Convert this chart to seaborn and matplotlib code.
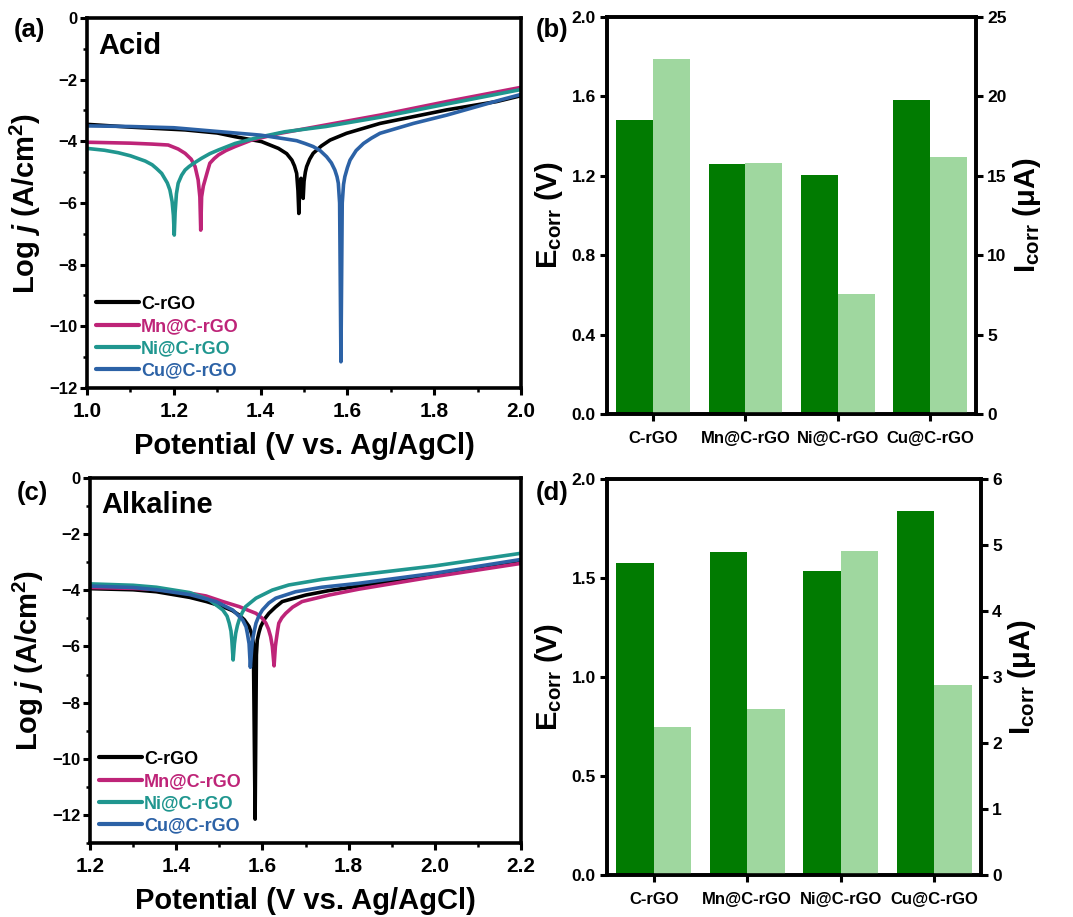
import numpy as np
import pandas as pd
import matplotlib
matplotlib.use('Agg')
import matplotlib.pyplot as plt
import seaborn as sns
from matplotlib.ticker import MultipleLocator

# ---- Tafel curves, acid (panel a) ----
acid_crgo_x = [1.00, 1.10, 1.226, 1.30, 1.341, 1.402, 1.441, 1.46, 1.472, 1.478, 1.483, 1.486, 1.488, 1.490,
               1.493, 1.496, 1.498, 1.500, 1.503, 1.506, 1.513, 1.521, 1.54, 1.56, 1.598, 1.675, 1.752, 1.829, 1.944, 2.00]
acid_crgo_y = [-3.45, -3.54, -3.63, -3.73, -3.85, -4.01, -4.23, -4.40, -4.61, -4.80, -5.04, -5.6, -6.34, -5.5,
               -5.2, -5.4, -5.85, -5.3, -5.0, -4.82, -4.58, -4.39, -4.15, -3.96, -3.74, -3.42, -3.20, -2.98, -2.71, -2.52]
acid_mn_x = [1.00, 1.10, 1.15, 1.187, 1.21, 1.226, 1.24, 1.249, 1.256, 1.260, 1.262, 1.264, 1.268, 1.272, 1.278,
             1.283, 1.293, 1.303, 1.32, 1.341, 1.379, 1.445, 1.55, 1.675, 1.829, 2.00]
acid_mn_y = [-4.03, -4.06, -4.09, -4.12, -4.25, -4.39, -4.58, -4.82, -5.25, -5.8, -6.88, -5.8, -5.45, -5.25, -4.95,
             -4.71, -4.56, -4.44, -4.30, -4.17, -3.96, -3.74, -3.47, -3.15, -2.71, -2.25]
acid_ni_x = [1.00, 1.04, 1.072, 1.10, 1.134, 1.15, 1.16, 1.172, 1.185, 1.191, 1.196, 1.199, 1.201, 1.203, 1.206,
             1.21, 1.218, 1.226, 1.235, 1.245, 1.264, 1.283, 1.303, 1.341, 1.395, 1.456, 1.55, 1.675, 1.829, 2.00]
acid_ni_y = [-4.23, -4.29, -4.37, -4.47, -4.64, -4.76, -4.88, -5.04, -5.35, -5.58, -5.95, -6.4, -7.04, -6.3, -5.7,
             -5.36, -5.1, -4.93, -4.82, -4.72, -4.55, -4.40, -4.28, -4.07, -3.87, -3.69, -3.52, -3.22, -2.79, -2.32]
acid_cu_x = [1.00, 1.10, 1.20, 1.333, 1.40, 1.456, 1.483, 1.502, 1.521, 1.537, 1.552, 1.563, 1.571, 1.576, 1.579,
             1.582, 1.585, 1.588, 1.591, 1.594, 1.600, 1.606, 1.62, 1.637, 1.655, 1.675, 1.752, 1.829, 1.952, 2.00]
acid_cu_y = [-3.50, -3.52, -3.56, -3.72, -3.80, -3.92, -3.98, -4.07, -4.17, -4.30, -4.50, -4.70, -4.93, -5.15, -5.36,
             -6.0, -11.15, -6.0, -5.4, -5.15, -4.85, -4.61, -4.30, -4.07, -3.90, -3.74, -3.42, -3.15, -2.66, -2.48]

# ---- Tafel curves, alkaline (panel c) ----
alk_crgo_x = [1.20, 1.30, 1.354, 1.431, 1.47, 1.508, 1.53, 1.546, 1.558, 1.569, 1.575, 1.579, 1.583, 1.586, 1.588,
              1.592, 1.596, 1.605, 1.615, 1.63, 1.646, 1.70, 1.754, 1.823, 2.00, 2.20]
alk_crgo_y = [-3.94, -3.98, -4.05, -4.25, -4.40, -4.58, -4.72, -4.88, -5.05, -5.29, -5.55, -5.89, -12.15, -6.3, -5.77,
              -5.5, -5.29, -5.02, -4.82, -4.6, -4.40, -4.17, -4.01, -3.85, -3.42, -2.93]
alk_mn_x = [1.20, 1.30, 1.354, 1.431, 1.469, 1.508, 1.546, 1.585, 1.60, 1.608, 1.614, 1.619, 1.623, 1.627, 1.630,
            1.632, 1.635, 1.638, 1.645, 1.654, 1.67, 1.692, 1.754, 1.823, 2.00, 2.20]
alk_mn_y = [-3.90, -3.93, -3.97, -4.10, -4.20, -4.40, -4.58, -4.82, -5.0, -5.17, -5.38, -5.65, -6.0, -6.69, -6.0,
            -5.77, -5.45, -5.17, -4.98, -4.82, -4.6, -4.40, -4.17, -3.96, -3.51, -3.04]
alk_ni_x = [1.20, 1.30, 1.354, 1.431, 1.477, 1.508, 1.518, 1.523, 1.527, 1.529, 1.532, 1.535, 1.538, 1.542, 1.546,
            1.553, 1.561, 1.585, 1.623, 1.661, 1.738, 1.823, 2.00, 2.20]
alk_ni_y = [-3.77, -3.82, -3.89, -4.08, -4.34, -4.70, -4.92, -5.17, -5.45, -5.77, -6.48, -5.9, -5.53, -5.25, -5.05,
            -4.8, -4.58, -4.28, -3.99, -3.81, -3.61, -3.45, -3.13, -2.68]
alk_cu_x = [1.20, 1.30, 1.354, 1.431, 1.492, 1.531, 1.554, 1.562, 1.565, 1.569, 1.572, 1.575, 1.577, 1.581, 1.585,
            1.592, 1.60, 1.615, 1.631, 1.677, 1.738, 1.823, 2.00, 2.20]
alk_cu_y = [-3.85, -3.90, -3.98, -4.15, -4.40, -4.70, -5.05, -5.3, -5.53, -5.9, -6.74, -6.1, -5.77, -5.45, -5.17,
            -4.9, -4.70, -4.45, -4.28, -4.05, -3.89, -3.75, -3.39, -2.90]

# ---- bar data ----
samples = ['C-rGO', 'Mn@C-rGO', 'Ni@C-rGO', 'Cu@C-rGO']
ecorr_acid = [1.48, 1.26, 1.205, 1.58]
icorr_acid = [22.35, 15.8, 7.55, 16.2]
ecorr_alk = [1.578, 1.629, 1.533, 1.84]
icorr_alk = [2.24, 2.52, 4.91, 2.88]

line_colors = ['#000000', '#be2478', '#20968f', '#2c62a6']
dark_green = '#017b01'
light_green = '#9fd79f'

sns.set_style('ticks')
plt.rcParams['font.family'] = ['Liberation Sans', 'DejaVu Sans']
plt.rcParams['font.weight'] = 'bold'
plt.rcParams['axes.labelweight'] = 'bold'
plt.rcParams['mathtext.fontset'] = 'custom'
plt.rcParams['mathtext.rm'] = 'Liberation Sans:bold'
plt.rcParams['mathtext.it'] = 'Liberation Sans:bold:italic'
plt.rcParams['mathtext.bf'] = 'Liberation Sans:bold'
for key in ['text.color', 'axes.labelcolor', 'xtick.color', 'ytick.color', 'axes.edgecolor']:
    plt.rcParams[key] = 'black'

fig = plt.figure(figsize=(10.73, 9.17), dpi=100)
ax_a = fig.add_axes([0.0811, 0.5769, 0.4045, 0.4035])
ax_b = fig.add_axes([0.5657, 0.5485, 0.344, 0.433])
ax_c = fig.add_axes([0.0839, 0.0807, 0.4017, 0.3980])
ax_d = fig.add_axes([0.5657, 0.0458, 0.3486, 0.4318])


def tafel_panel(ax, curves, xlim, ylim, title):
    for (xs, ys), col, name in zip(curves, line_colors, samples):
        sns.lineplot(x=xs, y=ys, ax=ax, color=col, lw=2.6, label=name,
                     estimator=None, sort=False)
    ax.set_xlim(*xlim)
    ax.set_ylim(*ylim)
    ax.xaxis.set_major_locator(MultipleLocator(0.2))
    ax.xaxis.set_minor_locator(MultipleLocator(0.1))
    ax.yaxis.set_major_locator(MultipleLocator(2))
    ax.yaxis.set_minor_locator(MultipleLocator(1))
    ax.xaxis.set_major_formatter(plt.FormatStrFormatter('%.1f'))
    ax.tick_params(axis='both', which='major', length=5, width=2.2, direction='out')
    ax.tick_params(axis='both', which='minor', length=3, width=1.8, direction='out')
    ax.tick_params(axis='x', labelsize=15, pad=5)
    ax.tick_params(axis='y', labelsize=12, pad=2)
    for s in ax.spines.values():
        s.set_visible(True)
        s.set_linewidth(2.6)
    ax.set_xlabel('Potential (V vs. Ag/AgCl)', fontsize=21, labelpad=8)
    ax.set_ylabel('Log $j$ (A/cm$^2$)', fontsize=21, labelpad=4)
    ax.text(0.025, 0.925, title, transform=ax.transAxes, fontsize=21,
            fontweight='bold', va='center', ha='left')
    leg = ax.legend(loc='lower left', frameon=False, fontsize=13, handlelength=2.4,
                    handletextpad=0.1, labelspacing=0.28, borderaxespad=0.1,
                    labelcolor='linecolor', bbox_to_anchor=(0.0, 0.0))
    for ln in leg.get_lines():
        ln.set_linewidth(3.0)


def bar_panel(ax, e_vals, i_vals, e_max, e_step, i_max, i_step):
    n = len(samples)
    df = pd.DataFrame({
        'sample': samples * 2,
        'kind': ['E'] * n + ['I'] * n,
        'E': list(e_vals) + [np.nan] * n,
        'I': [np.nan] * n + list(i_vals),
    })
    pal = {'E': dark_green, 'I': light_green}
    sns.barplot(data=df, x='sample', y='E', hue='kind', palette=pal, ax=ax,
                width=0.8, errorbar=None, saturation=1, linewidth=0, legend=False)
    ax2 = ax.twinx()
    sns.barplot(data=df, x='sample', y='I', hue='kind', palette=pal, ax=ax2,
                width=0.8, errorbar=None, saturation=1, linewidth=0, legend=False)
    ax.set_xlim(-0.5, 3.5)
    ax.set_ylim(0, e_max)
    ax2.set_ylim(0, i_max)
    ax.yaxis.set_major_locator(MultipleLocator(e_step))
    ax2.yaxis.set_major_locator(MultipleLocator(i_step))
    ax.yaxis.set_major_formatter(plt.FormatStrFormatter('%.1f'))
    for a in (ax, ax2):
        a.tick_params(axis='both', which='major', length=5, width=2.2, direction='out', pad=3)
        for s in a.spines.values():
            s.set_visible(True)
            s.set_linewidth(2.6)
    ax.tick_params(axis='x', pad=7)
    ax.set_xlabel('')
    ax.set_ylabel(r'E$_{\rm corr}$ (V)', fontsize=21, labelpad=5)
    ax2.set_ylabel('I$_{\\rm corr}$ (\u03bcA)', fontsize=21, labelpad=3)
    for lab in ax.get_xticklabels():
        lab.set_fontsize(12)
        lab.set_fontweight('bold')
    for lab in ax.get_yticklabels() + ax2.get_yticklabels():
        lab.set_fontsize(12.5)
        lab.set_fontweight('bold')
    return ax2


tafel_panel(ax_a, [(acid_crgo_x, acid_crgo_y), (acid_mn_x, acid_mn_y),
                   (acid_ni_x, acid_ni_y), (acid_cu_x, acid_cu_y)],
            (1.0, 2.0), (-12, 0), 'Acid')
tafel_panel(ax_c, [(alk_crgo_x, alk_crgo_y), (alk_mn_x, alk_mn_y),
                   (alk_ni_x, alk_ni_y), (alk_cu_x, alk_cu_y)],
            (1.2, 2.2), (-13, 0), 'Alkaline')
bar_panel(ax_b, ecorr_acid, icorr_acid, 2.0, 0.4, 25, 5)
bar_panel(ax_d, ecorr_alk, icorr_alk, 2.0, 0.5, 6, 1)

for lbl, (fx, fy) in zip(['(a)', '(b)', '(c)', '(d)'],
                         [(0.013, 0.967), (0.499, 0.967), (0.016, 0.462), (0.499, 0.462)]):
    fig.text(fx, fy, lbl, fontsize=18.5, fontweight='bold', va='center', ha='left')

fig.savefig('out.png', dpi=100)
